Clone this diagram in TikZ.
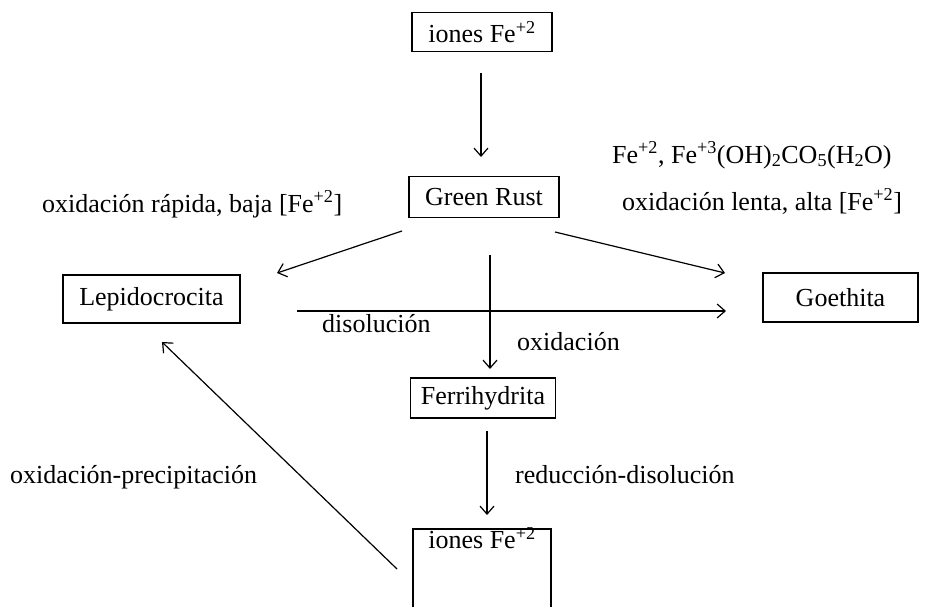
\documentclass[tikz,border=0pt]{standalone}
\usepackage{fontspec}
\setmainfont{Liberation Serif}
\usetikzlibrary{arrows.meta}
\begin{document}
\begin{tikzpicture}[x=1pt,y=-1pt,
  box/.style={draw,line width=1.5pt,inner sep=0pt,minimum height=39pt},
  arr/.style={line width=1.2pt,-{Straight Barb[length=8pt,width=14pt,line width=1.2pt]}},
  lab/.style={inner sep=0pt,anchor=base west},
  font=\fontsize{26}{30}\selectfont]
\useasboundingbox (0,0) rectangle (934,607);
\clip (0,0) rectangle (934,607);
% boxes
\node[box,minimum width=140pt] (top) at (482,32) {iones Fe\textsuperscript{+2}};
\node[box,minimum width=150pt,minimum height=41pt] (gr) at (484,197) {Green Rust};
\node[box,minimum width=177pt,minimum height=48pt] (lep) at (151.5,299) {Lepidocrocita};
\node[box,minimum width=155pt,minimum height=49pt] (goe) at (840.5,297.5) {Goethita};
\node[box,minimum width=145pt,minimum height=40pt] (fer) at (483,398) {Ferrihydrita};
\node[box,minimum width=138pt,anchor=north,text height=20pt,text depth=70pt] (bot) at (482,528) {iones Fe\textsuperscript{+2}};
% connector endpoints
\coordinate (a1s) at (481,73);
\coordinate (a1e) at (481,157);
\coordinate (a2s) at (490,255);
\coordinate (a2e) at (490,369);
\coordinate (a3s) at (487,431);
\coordinate (a3e) at (487,515);
\coordinate (dls) at (402,231);
\coordinate (dle) at (277,273);
\coordinate (drs) at (555,232);
\coordinate (dre) at (725,273);
\coordinate (hs) at (297,311);
\coordinate (he) at (726,311);
\coordinate (ups) at (397,569);
\coordinate (upe) at (162,342);
% connectors
\draw[arr] (a1s) -- (a1e);
\draw[arr] (a2s) -- (a2e);
\draw[arr] (a3s) -- (a3e);
\draw[arr] (dls) -- (dle);
\draw[arr] (drs) -- (dre);
\draw[arr] (hs) -- (he);
\draw[arr] (ups) -- (upe);
% labels
\node[lab] (f1) at (612,163) {Fe\textsuperscript{+2}, Fe\textsuperscript{+3}(OH)\textsubscript{2}CO\textsubscript{5}(H\textsubscript{2}O)};
\node[lab] (l1) at (42,212) {oxidación rápida, baja [Fe\textsuperscript{+2}]};
\node[lab] (l2) at (622,210) {oxidación lenta, alta [Fe\textsuperscript{+2}]};
\node[lab] (l3) at (322,332) {disolución};
\node[lab] (l4) at (517,350) {oxidación};
\node[lab] (l5) at (515,483) {reducción-disolución};
\node[lab] (l6) at (10,483) {oxidación-precipitación};
\end{tikzpicture}
\end{document}
